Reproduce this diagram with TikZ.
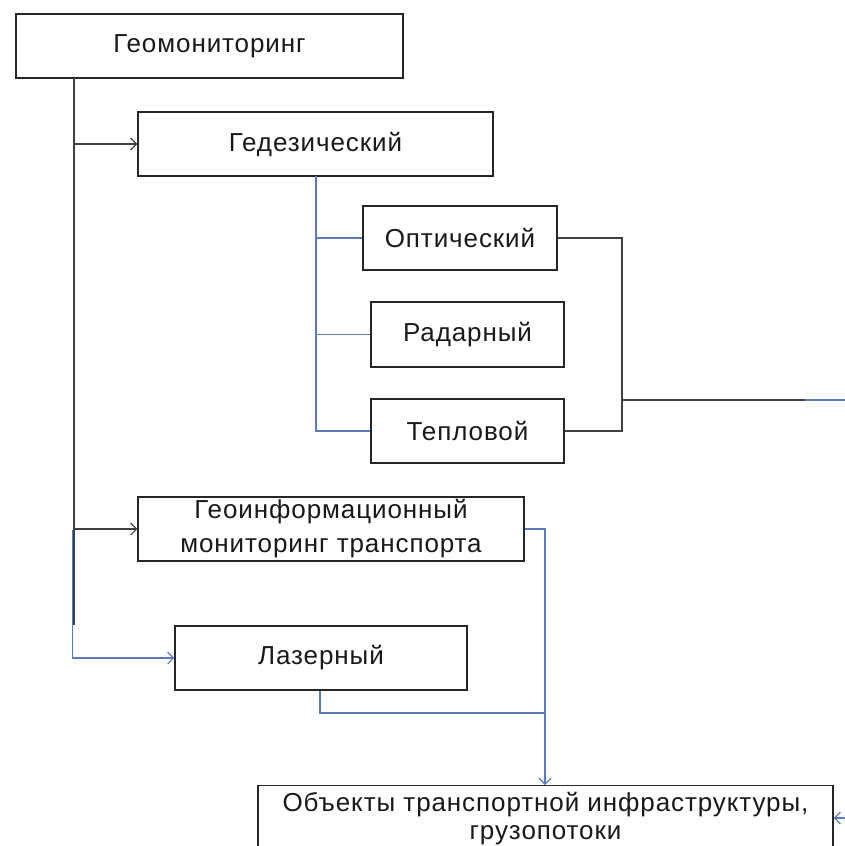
\documentclass[tikz,border=0pt]{standalone}
\usepackage{fontspec}
\setmainfont[LetterSpace=3.5]{Liberation Sans}
\usetikzlibrary{arrows.meta}
\definecolor{lk}{HTML}{404040}
\definecolor{lb}{HTML}{5A7DBA}
\tikzset{
  box/.style={draw=black!85, line width=1.4pt, rectangle, align=center, inner sep=0pt,
    font=\fontsize{26}{31}\selectfont, text=black!90},
  kline/.style={draw=lk, line width=1.3pt},
  bline/.style={draw=lb, line width=1.3pt},
  arr/.style={-{Straight Barb[length=6pt,width=12pt,line width=1.1pt]}}
}
\begin{document}
\begin{tikzpicture}[x=1pt,y=-1pt]
\useasboundingbox (0,0) rectangle (845,846);
\clip (0,0) rectangle (845,846);
\node[box, minimum width=387pt, minimum height=64pt] (geo) at (209.5,46) {Геомониторинг};
\node[box, minimum width=355pt, minimum height=64pt] (ged) at (315.5,144) {Гедезический};
\node[box, minimum width=194pt, minimum height=64pt] (opt) at (460,238) {Оптический};
\node[box, minimum width=193pt, minimum height=65pt] (rad) at (467.5,334.5) {Радарный};
\node[box, minimum width=193pt, minimum height=64pt] (tep) at (467.5,431) {Тепловой};
\node[box, minimum width=386pt, minimum height=64pt] (gis) at (331,529) {Геоинформационный\\[3pt]мониторинг транспорта};
\node[box, minimum width=292pt, minimum height=64pt] (las) at (321,658) {Лазерный};
\node[box, minimum width=575pt, minimum height=65pt, anchor=north] (obj) at (545.5,785) {Объекты транспортной инфраструктуры,\\[-3pt]грузопотоки};
% trunk
\coordinate (tTop) at (74,78);
\coordinate (tBot) at (74,625);
\coordinate (tBl) at (72.5,530);
\draw[kline] (tTop) -- (tBot);
\draw[kline,arr] (ged.west -| tTop) -- (ged.west);
\draw[kline,arr] (gis.west -| tTop) -- (gis.west);
\draw[bline,arr] (tBl) -- (las.west -| tBl) -- (las.west);
% gedezicheskiy branches
\coordinate (gTop) at (316,176);
\coordinate (gBot) at (316,431);
\draw[bline] (gTop) -- (gBot) -- (tep.west);
\draw[bline] (opt.west -| gTop) -- (opt.west);
\draw[bline] (rad.west -| gTop) -- (rad.west);
% right collector
\coordinate (cX) at (622,400);
\coordinate (cM) at (805,400);
\coordinate (cR) at (845,400);
\draw[kline] (opt.east) -- (opt.east -| cX) -- (tep.east -| cX) -- (tep.east);
\draw[kline] (cX) -- (cM);
\draw[bline] (cM) -- (cR);
% to objects
\coordinate (vX) at (545,530);
\coordinate (lJ) at (545,713);
\draw[bline,arr] (gis.east) -- (gis.east -| vX) -- (obj.north -| vX);
\draw[bline] (las.south -| 320,0) -- (320,713) -- (lJ);
\coordinate (rIn) at (848,818);
\draw[bline,arr] (rIn) -- (rIn -| obj.east);
\end{tikzpicture}
\end{document}
